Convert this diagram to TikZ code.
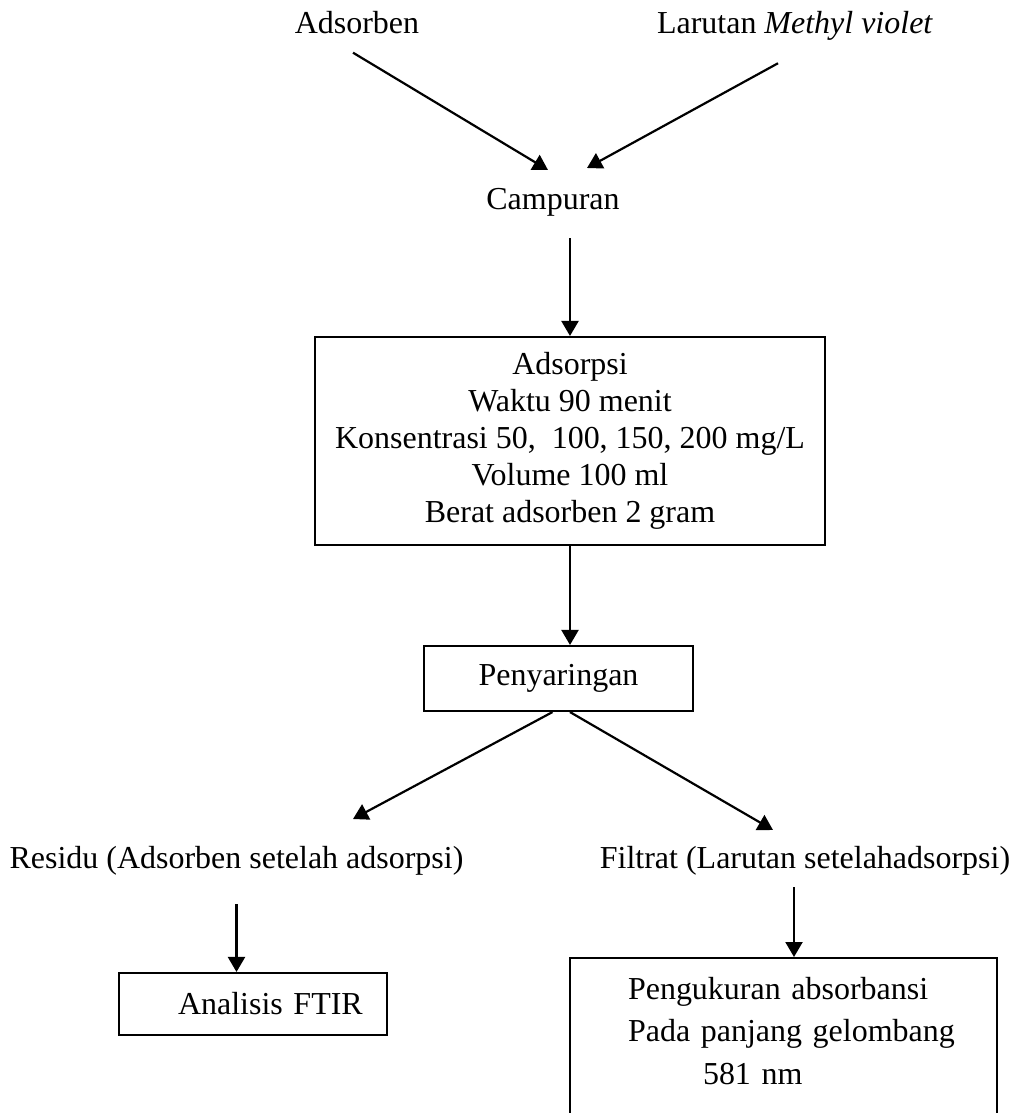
\documentclass[tikz,border=0pt]{standalone}
\usepackage{fontspec}
\setmainfont{Liberation Serif}
\usepackage{tkz-euclide}
\usepackage{tikz}
\usetikzlibrary{arrows.meta}
\tikzset{
  lbl/.style={inner sep=0pt, anchor=base},
  kotak/.style={draw, line width=1.2pt, inner sep=0pt},
  panah/.style={line width=1.25pt, -{Triangle[width=0.34cm,length=0.3cm]}}
}

\begin{document}
\begin{tikzpicture}[x=0.02cm, y=-0.02cm, font=\fontsize{18.2}{21}\selectfont]
    \path[use as bounding box, clip] (0,0) rectangle (1017,1113);
    \tkzDefPoints{548/170/TA,587/168/TB,353/819/TC,773/830/TD}
    \node[lbl] (adsorben) at (357,33) {Adsorben};
    \node[lbl] (larutan) at (795,33) {Larutan \textit{Methyl violet}};
    \node[lbl] (campuran) at (553,209) {Campuran};
    \node[kotak, minimum width=10.2cm, minimum height=4.16cm, align=center] (adsorpsi) at (570,441)
        {Adsorpsi\\Waktu 90 menit\\Konsentrasi 50,\ \ 100, 150, 200 mg/L\\Volume 100 ml\\Berat adsorben 2 gram};
    \node[kotak, minimum width=5.38cm, minimum height=1.3cm] (penyaringan) at (558.5,678.5) {Penyaringan};
    \node[lbl] (residu) at (236.5,868) {Residu (Adsorben setelah adsorpsi)};
    \node[lbl] (filtrat) at (805,868) {Filtrat (Larutan setelahadsorpsi)};
    \node[kotak, minimum width=5.36cm, minimum height=1.24cm, text width=5.36cm, align=left] (analisis) at (253,1004)
        {\hspace*{1.18cm}Analisis FTIR};
    \node[kotak, anchor=north, text width=8.54cm, align=left, inner ysep=0.38cm, text depth=5cm,
        font=\fontsize{18.2}{24.2}\selectfont] (ukur) at (783.5,957)
        {\hspace*{1.16cm}Pengukuran absorbansi\\\hspace*{1.16cm}Pada panjang gelombang\\\hspace*{2.66cm}581 nm};
    \draw[panah] ([shift={(-4,19)}]adsorben.south) -- (TA);
    \draw[panah] ([shift={(-17,23)}]larutan.south) -- (TB);
    \draw[panah, shorten <=0.44cm] (campuran.south -| adsorpsi.north) -- (adsorpsi.north);
    \draw[panah] (adsorpsi.south) -- (adsorpsi.south |- penyaringan.north);
    \draw[panah] ([shift={(-6,0)}]penyaringan.south) -- (TC);
    \draw[panah] (penyaringan.south -| adsorpsi.south) -- (TD);
    \draw[panah, shorten <=0.58cm] (residu.south) -- (residu.south |- analisis.north);
    \coordinate (fbawah) at ([shift={(-11,0)}]filtrat.south);
    \draw[panah, shorten <=0.24cm] (fbawah) -- (fbawah |- ukur.north);
\end{tikzpicture}
\end{document}
